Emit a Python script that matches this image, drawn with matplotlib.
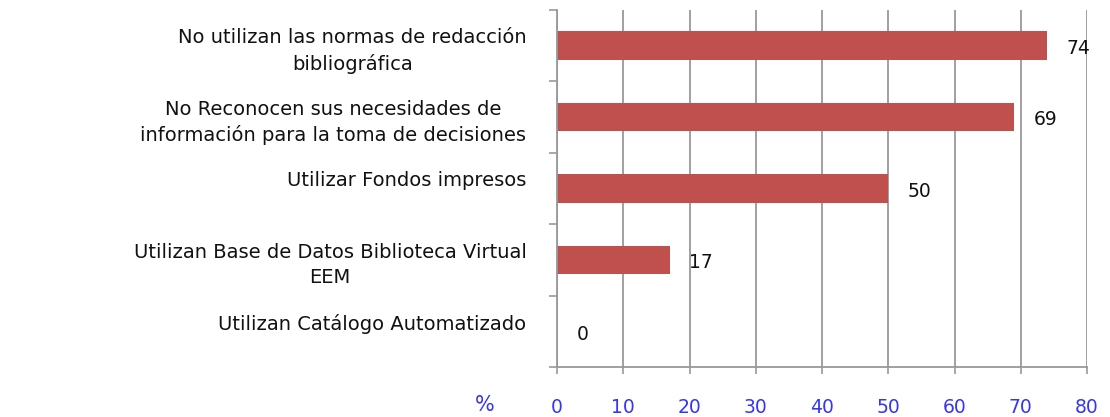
import numpy as np
import matplotlib
matplotlib.use("Agg")
import matplotlib.pyplot as plt
from matplotlib.ticker import FixedLocator

# Datos
categorias = [
    "No utilizan las normas de redacción\nbibliográfica",
    "No Reconocen sus necesidades de\ninformación para la toma de decisiones",
    "Utilizar Fondos impresos\n",
    "Utilizan Base de Datos Biblioteca Virtual\nEEM",
    "Utilizan Catálogo Automatizado\n",
]
valores = [74, 69, 50, 17, 0]
xticks = [0, 10, 20, 30, 40, 50, 60, 70, 80]

rojo = "#C0504D"
azul = "#3535F5"
gris = "#999999"

fig = plt.figure(figsize=(11.10, 4.17), dpi=100)
ax = fig.add_axes([557 / 1110, 1 - 367 / 417, 530 / 1110, 357 / 417])

y = np.arange(len(categorias))
ax.barh(y, valores, height=0.4, color=rojo, zorder=3)

for yi, v in zip(y, valores):
    ax.annotate(str(v), xy=(v, yi), xytext=(14, -2), textcoords="offset points",
                ha="left", va="center", fontsize=13.5, color="#111111")

ax.set_xlim(0, 80)
ax.set_ylim(len(categorias) - 0.5, -0.5)

ax.set_xticks(xticks)
ax.set_xticklabels([str(t) for t in xticks])
ax.tick_params(axis="x", colors=gris, labelcolor=azul, labelsize=13.5,
               length=5, width=1.2, pad=17, direction="out")

ax.set_yticks(y)
ax.set_yticklabels(categorias, fontsize=14, color="#111111",
                   multialignment="center", linespacing=1.4)
ax.tick_params(axis="y", which="major", length=0, pad=22)
ax.yaxis.set_minor_locator(FixedLocator(np.arange(-0.5, len(categorias), 1.0)))
ax.tick_params(axis="y", which="minor", length=6, width=1.2, color=gris)

ax.grid(axis="x", color=gris, linewidth=1.3, zorder=0)
for s in ["top", "right"]:
    ax.spines[s].set_visible(False)
for s in ["left", "bottom"]:
    ax.spines[s].set_color(gris)
    ax.spines[s].set_linewidth(1.3)
    ax.spines[s].set_zorder(4)

fig.text(485 / 1110, 1 - 405 / 417, "%", fontsize=15, color=azul,
         ha="center", va="center")

fig.savefig("out.png", dpi=100)
